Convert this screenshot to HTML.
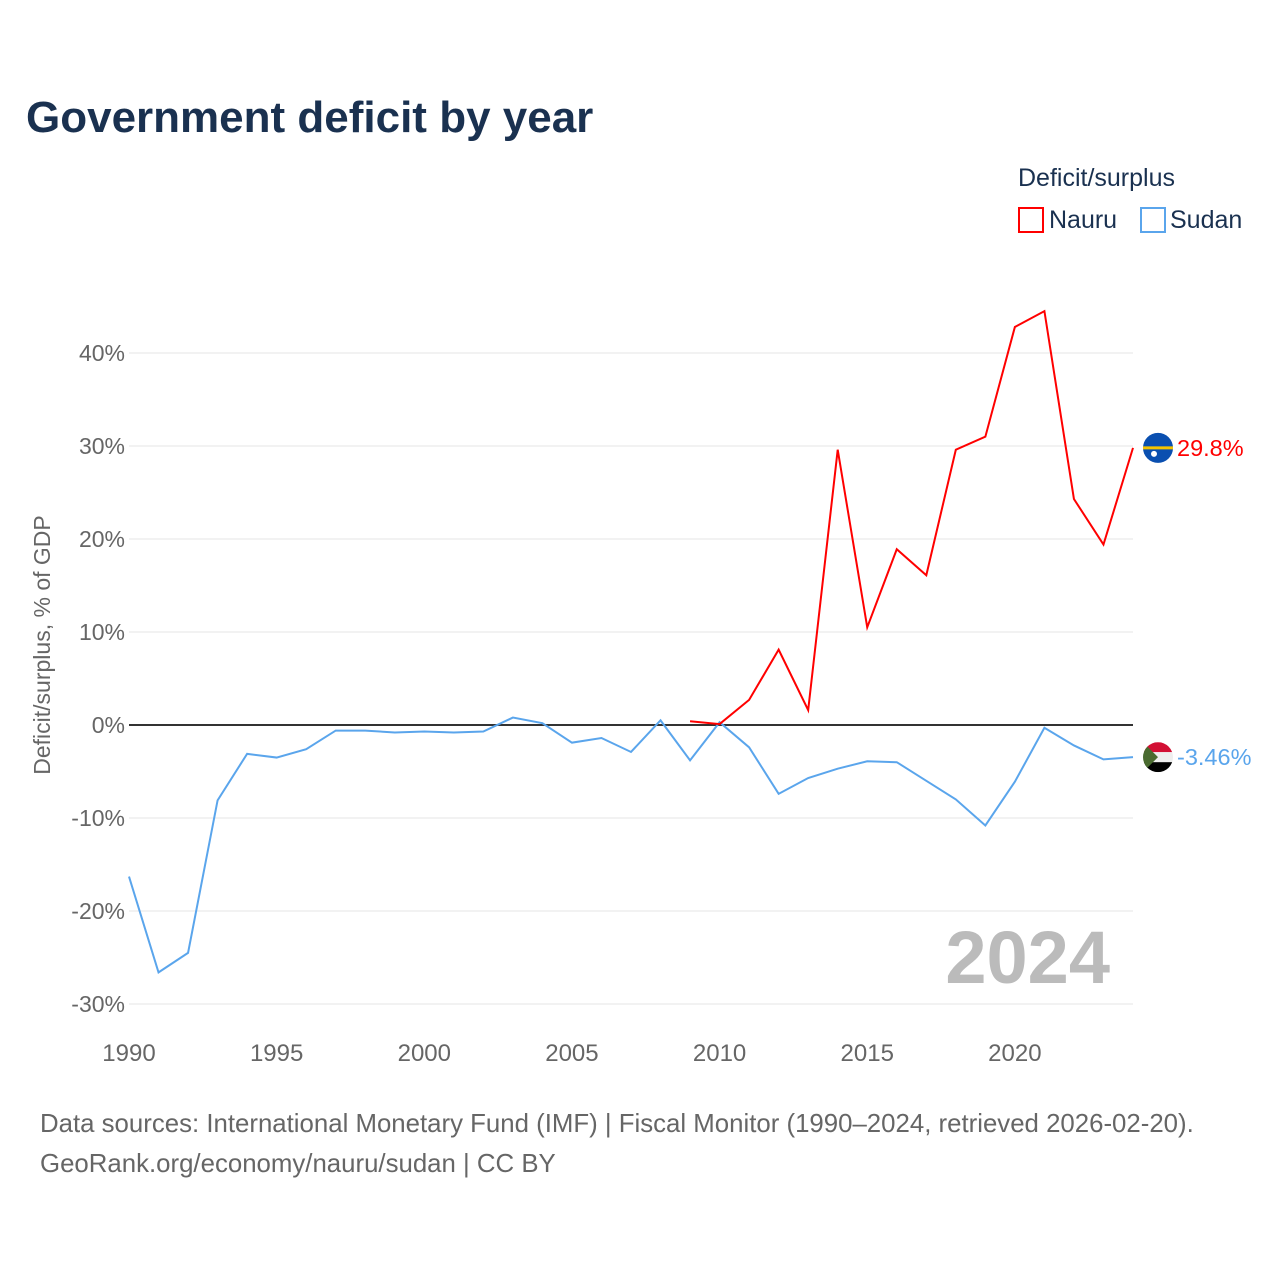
<!DOCTYPE html>
<html><head><meta charset="utf-8">
<style>
body{margin:0;background:#fff;width:1280px;height:1280px;overflow:hidden;font-family:"Liberation Sans",sans-serif}
</style></head><body>
<svg id="c" width="1280" height="1280" xmlns="http://www.w3.org/2000/svg">
<text x="26" y="132" font-size="44" font-weight="bold" fill="#1a3150">Government deficit by year</text>
<text x="1018" y="186" font-size="25" fill="#1a3150">Deficit/surplus</text>
<g><rect x="1019" y="208" width="24" height="24" fill="none" stroke="#f00" stroke-width="2"/><text x="1049" y="228" font-size="25" fill="#1a3150">Nauru</text></g>
<g><rect x="1141" y="208" width="24" height="24" fill="none" stroke="#5aa5ec" stroke-width="2"/><text x="1170" y="228" font-size="25" fill="#1a3150">Sudan</text></g>
<text transform="translate(50,645) rotate(-90)" text-anchor="middle" font-size="23" fill="#666">Deficit/surplus, % of GDP</text>
<text x="1110" y="983" text-anchor="end" font-size="74" font-weight="bold" fill="#bbb">2024</text>
<g id="grid"></g><g id="marks"></g>
<text x="40" y="1132" font-size="25.8" fill="#666">Data sources: International Monetary Fund (IMF) | Fiscal Monitor (1990–2024, retrieved 2026-02-20).</text>
<text x="40" y="1172" font-size="25.8" fill="#666">GeoRank.org/economy/nauru/sudan | CC BY</text>
</svg>
<script>
const years=[];for(let y=1990;y<=2024;y++)years.push(y);
const sudan=[-16.3,-26.6,-24.5,-8.1,-3.1,-3.5,-2.6,-0.6,-0.6,-0.8,-0.7,-0.8,-0.7,0.8,0.2,-1.9,-1.4,-2.9,0.5,-3.8,0.3,-2.4,-7.4,-5.7,-4.7,-3.9,-4.0,-6.0,-8.0,-10.8,-6.1,-0.3,-2.2,-3.7,-3.46];
const nauruYears=[2009,2010,2011,2012,2013,2014,2015,2016,2017,2018,2019,2020,2021,2022,2023,2024];
const nauru=[0.4,0.1,2.7,8.1,1.6,29.6,10.5,18.9,16.1,29.6,31.0,42.8,44.5,24.3,19.4,29.8];
const yTicks=[-30,-20,-10,0,10,20,30,40];
const xTicks=[1990,1995,2000,2005,2010,2015,2020];
const NS='http://www.w3.org/2000/svg';
const X=y=>129+(y-1990)*(1133-129)/34;
const Y=v=>725-v*9.3;
function mk(t,a,p){const e=document.createElementNS(NS,t);for(const k in a)e.setAttribute(k,a[k]);p.appendChild(e);return e;}
const g=document.getElementById('grid'),m=document.getElementById('marks');
yTicks.forEach(v=>{
 const l=mk('line',{x1:129,x2:1133,y1:Y(v),y2:Y(v),stroke:v===0?'#333':'#e6e6e6','stroke-width':v===0?2:1},g);
 
 
 const t=mk('text',{x:125,y:Y(v)+8,'text-anchor':'end','font-size':23,fill:'#666'},g);t.textContent=v+'%';
 
 
});
xTicks.forEach(v=>{
 const t=mk('text',{x:X(v),y:1061,'text-anchor':'middle','font-size':24,fill:'#666'},g);t.textContent=v;
 
 
});
const ps=mk('polyline',{points:years.map((y,i)=>X(y)+','+Y(sudan[i])).join(' '),fill:'none',stroke:'#5aa5ec','stroke-width':2},m);


const pn=mk('polyline',{points:nauruYears.map((y,i)=>X(y)+','+Y(nauru[i])).join(' '),fill:'none',stroke:'#f00','stroke-width':2},m);


const nv=nauru[nauru.length-1],sv=sudan[sudan.length-1],fx=1158;
const fn=mk('g',{},m);


mk('circle',{cx:fx,cy:Y(nv),r:15,fill:'#0a4fb0'},fn);
mk('rect',{x:fx-15,y:Y(nv)-1.5,width:30,height:3,fill:'#f5c400'},fn);
mk('circle',{cx:fx-4,cy:Y(nv)+6,r:3,fill:'#fff'},fn);
const tn=mk('text',{x:1177,y:Y(nv)+8,'font-size':23.5,fill:'#f00'},m);tn.textContent=nv+'%';


const fs=mk('g',{},m);


const cp=mk('clipPath',{id:'cs'},fs);mk('circle',{cx:fx,cy:Y(sv),r:15},cp);
const sg=mk('g',{'clip-path':'url(#cs)'},fs);
mk('rect',{x:fx-15,y:Y(sv)-15,width:30,height:10,fill:'#d21034'},sg);
mk('rect',{x:fx-15,y:Y(sv)-5,width:30,height:10,fill:'#eee'},sg);
mk('rect',{x:fx-15,y:Y(sv)+5,width:30,height:10,fill:'#000'},sg);
mk('polygon',{points:(fx-15)+','+(Y(sv)-15)+' '+(fx)+','+Y(sv)+' '+(fx-15)+','+(Y(sv)+15),fill:'#4a6b30'},sg);
const ts=mk('text',{x:1177,y:Y(sv)+8,'font-size':23.5,fill:'#5aa5ec'},m);ts.textContent=sv+'%';


</script>
</body></html>
